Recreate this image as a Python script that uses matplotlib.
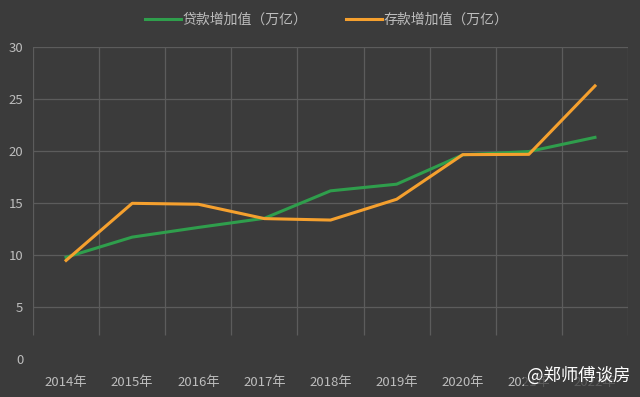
import matplotlib.pyplot as plt

plt.rcParams['font.family'] = ['Noto Sans CJK SC', 'DejaVu Sans']

# 数据（万亿）
years = ["2014年", "2015年", "2016年", "2017年", "2018年", "2019年", "2020年", "2021年", "2022年"]
loans = [9.78, 11.72, 12.65, 13.53, 16.17, 16.81, 19.63, 19.95, 21.31]
deposits = [9.48, 14.97, 14.88, 13.50, 13.36, 15.36, 19.65, 19.68, 26.26]
yticks = [0, 5, 10, 15, 20, 25, 30]

bg = "#3b3b3b"
grid_c = "#5c5c5c"
text_c = "#bdbdbd"

fig = plt.figure(figsize=(6.4, 3.97), dpi=100, facecolor=bg)
ax = fig.add_axes([0.0516, 0.0957, 0.9297, 0.7859], facecolor=bg)

x = list(range(len(years)))
ax.plot(x, loans, color="#2f9e4c", lw=2.2, label="贷款增加值（万亿）", zorder=3)
ax.plot(x, deposits, color="#f5a02e", lw=2.2, label="存款增加值（万亿）", zorder=4)

ax.set_xlim(-0.5, len(years) - 0.5)
ax.set_ylim(0, 30)
ax.set_xticks(x)
ax.set_xticklabels(years)
ax.set_yticks(yticks)

# 网格线
for v in yticks[1:]:
    ax.axhline(v, color=grid_c, lw=0.9, zorder=1)
for i in range(len(years) + 1):
    ax.vlines(i - 0.5, 2.3, 30, color=grid_c, lw=0.9, zorder=1)

for s in ax.spines.values():
    s.set_visible(False)
ax.tick_params(length=0, colors=text_c, labelsize=9.5)
ax.tick_params(axis="x", pad=12)
ax.tick_params(axis="y", pad=7)

leg = fig.legend(loc="upper center", bbox_to_anchor=(0.51, 1.0), ncol=2, frameon=False,
                 fontsize=10, handlelength=2.6, handletextpad=0.1, columnspacing=2.8,
                 labelcolor=text_c)

# 水印（参考图中盖住了2021年、2022年的标签）
fig.text(0.985, 0.055, "@郑师傅谈房", color="white", fontsize=12.5, ha="right", va="center",
         bbox=dict(boxstyle="square,pad=0.15", fc=bg, ec="none", alpha=0.75))

fig.savefig("out.png", dpi=100, facecolor=bg)
